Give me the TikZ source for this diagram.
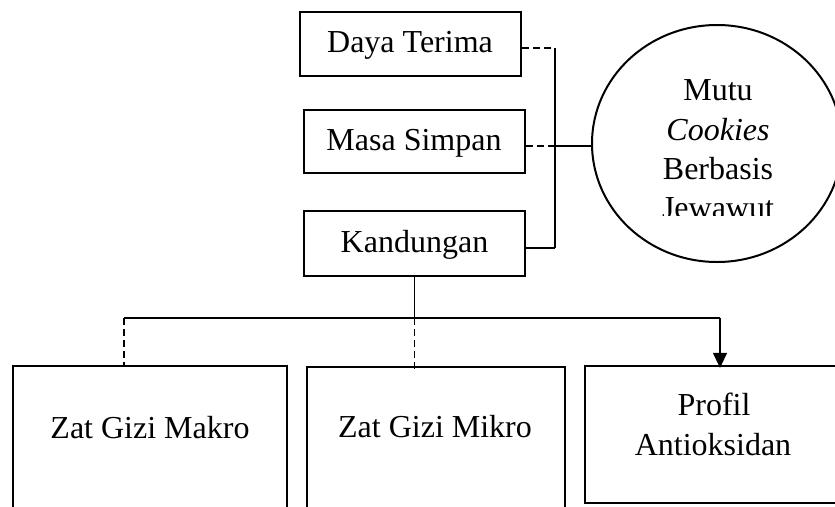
\documentclass[tikz,border=0pt]{standalone}
\usepackage{fontspec}
\setmainfont{Liberation Serif}
\usetikzlibrary{shapes.geometric,arrows.meta}
\begin{document}
\begin{tikzpicture}[x=1pt,y=-1pt,
  box/.style={draw,line width=2.2pt,inner sep=0pt},
  txt/.style={anchor=base,inner sep=0pt,font=\fontsize{32}{38}\selectfont},
  conn/.style={line width=1.2pt},
  dconn/.style={line width=1.2pt,dash pattern=on 7pt off 4pt}]
\clip (0,0) rectangle (835,506);
\useasboundingbox (0,0) rectangle (835,506);
% top boxes
\node[box,minimum width=221pt,minimum height=64pt] (daya) at (410.5,44) {};
\node[box,minimum width=221pt,minimum height=63pt] (masa) at (414.5,141.5) {};
\node[box,minimum width=221pt,minimum height=65pt] (kand) at (414.5,243.5) {};
\node[txt] (dayaT) at (410,52) {Daya Terima};
\node[txt] (masaT) at (414,150) {Masa Simpan};
\node[txt] (kandT) at (414.5,252) {Kandungan};
% ellipse
\node[draw,ellipse,line width=2pt,inner sep=0pt,minimum width=250pt,minimum height=237pt] (mutu) at (717,143.5) {};
\node[txt] (m1) at (718,100) {Mutu};
\node[txt] (m2) at (718,140) {\itshape Cookies};
\node[txt] (m3) at (718,179) {Berbasis};
\begin{scope}
\clip (640,185) rectangle (800,215);
\node[txt] (m4) at (718,218) {Jewawut};
\end{scope}
% bottom boxes
\node[box,minimum width=274pt,minimum height=180pt] (makro) at (150,456) {};
\node[box,minimum width=258pt,minimum height=180pt] (mikro) at (436,457) {};
\node[box,minimum width=265pt,minimum height=137pt] (profil) at (717.5,434.5) {};
\node[txt] (makroT) at (150,438) {Zat Gizi Makro};
\node[txt] (mikroT) at (435,437) {Zat Gizi Mikro};
\node[txt] (profilT1) at (714,415) {Profil};
\node[txt] (profilT2) at (713,455) {Antioksidan};
% right connectors
\coordinate (j1) at (555,48);
\coordinate (j2) at (555,146);
\coordinate (j3) at (555,248);
\draw[dconn] (daya.east |- j1) -- (j1);
\draw[dconn] (masa.east |- j2) -- (j2);
\draw[conn] (j1) -- (j3);
\draw[conn] (kand.east |- j3) -- (j3);
\draw[conn] (j2) -- (mutu.west |- j2);
% bottom connectors
\coordinate (h0) at (414.5,318);
\coordinate (h1) at (124,318);
\coordinate (h3) at (720,318);
\draw[conn] (kand.south) -- (h0);
\draw[conn] (h1) -- (h3);
\draw[dconn] (h1) -- (h1 |- makro.north);
\draw[dconn] (h0) -- ([yshift=-5pt]h0 |- mikro.north);
\draw[conn,-{Triangle[length=15pt,width=14pt]}] (h3) -- ([yshift=-3pt]h3 |- profil.north);
\end{tikzpicture}
\end{document}
